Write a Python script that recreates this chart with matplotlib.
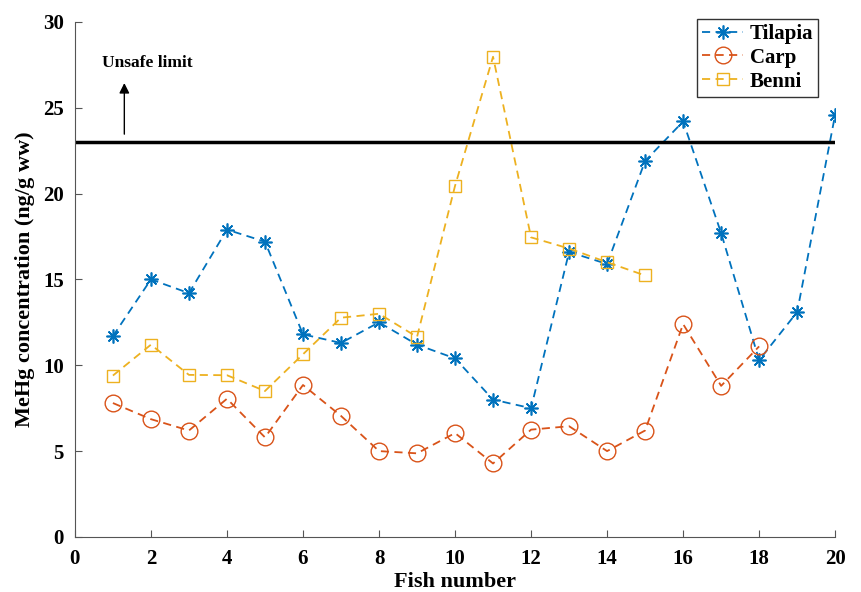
import matplotlib.pyplot as plt
import numpy as np

plt.rcParams['font.family'] = ['Liberation Serif', 'DejaVu Serif']
plt.rcParams['font.weight'] = 'bold'

tilapia = [11.7, 15.0, 14.2, 17.9, 17.2, 11.8, 11.3, 12.5, 11.2, 10.4,
           8.0, 7.5, 16.6, 15.9, 21.9, 24.2, 17.7, 10.3, 13.1, 24.6]
carp = [7.8, 6.86, 6.2, 8.05, 5.8, 8.85, 7.05, 5.0, 4.87, 6.05,
        4.28, 6.25, 6.45, 5.0, 6.2, 12.4, 8.8, 11.1]
benni = [9.4, 11.2, 9.44, 9.42, 8.5, 10.64, 12.77, 13.0, 11.65, 20.45,
         27.97, 17.45, 16.8, 16.0, 15.23]
unsafe = 23

c_til = '#0072BD'
c_carp = '#D95319'
c_ben = '#EDB120'

fig = plt.figure(figsize=(8.61, 5.92), dpi=100)
ax = fig.add_axes([0.087, 0.093, 0.883, 0.870])

dash = (4.5, 3)
ax.plot(np.arange(1, len(tilapia) + 1), tilapia, '--', color=c_til, marker=(8, 2, 0),
        markersize=10, markeredgewidth=1.2, lw=1.3, dashes=dash, label='Tilapia')
ax.plot(np.arange(1, len(carp) + 1), carp, '--', color=c_carp, marker='o',
        markersize=12, markerfacecolor='none', lw=1.3, dashes=dash, label='Carp')
ax.plot(np.arange(1, len(benni) + 1), benni, '--', color=c_ben, marker='s',
        markersize=8.5, markerfacecolor='none', lw=1.3, dashes=dash, label='Benni')

ax.axhline(unsafe, color='black', lw=2.5)
ax.annotate('', xy=(1.3, 26.6), xytext=(1.3, 23.3),
            arrowprops=dict(arrowstyle='-|>', color='black', lw=1, mutation_scale=15))
ax.text(0.7, 27.6, 'Unsafe limit', fontsize=12.5, fontweight='bold', va='center')

ax.set_xlim(0, 20)
ax.set_ylim(0, 30)
ax.set_xticks(range(0, 21, 2))
ax.set_yticks(range(0, 31, 5))
ax.set_xlabel('Fish number', fontsize=16, fontweight='bold', labelpad=2)
ax.set_ylabel('MeHg concentration (ng/g ww)', fontsize=16, fontweight='bold', labelpad=6)

for s in ['top', 'right']:
    ax.spines[s].set_visible(False)
for s in ['left', 'bottom']:
    ax.spines[s].set_color('#555555')
ax.tick_params(direction='in', labelsize=15, color='#555555', length=5)
ax.tick_params(axis='x', pad=9)
ax.tick_params(axis='y', pad=8)
for lab in ax.get_xticklabels() + ax.get_yticklabels():
    lab.set_fontweight('bold')

leg = ax.legend(loc='upper right', fontsize=15, fancybox=False, edgecolor='#333333',
                framealpha=1, handlelength=2.0, borderpad=0.25, labelspacing=0.18,
                handletextpad=0.3, borderaxespad=0, bbox_to_anchor=(0.978, 1.006))
leg.get_frame().set_linewidth(1.0)
for t in leg.get_texts():
    t.set_fontweight('bold')

fig.savefig('out.png', dpi=100)
